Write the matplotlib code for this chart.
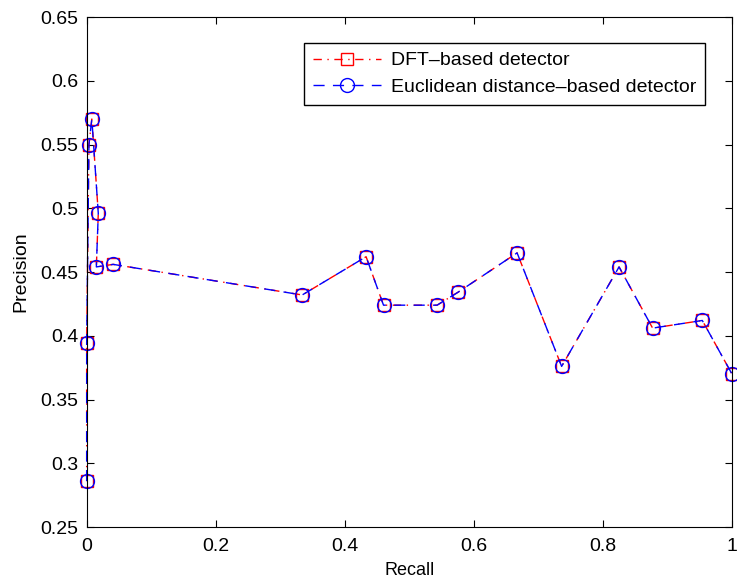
import matplotlib.pyplot as plt

plt.rcParams['font.family'] = ['Liberation Sans', 'DejaVu Sans']

# recall / precision pairs
recall = [0.0, 0.0, 0.0035, 0.008, 0.018, 0.015, 0.041, 0.334, 0.433, 0.460,
          0.543, 0.575, 0.667, 0.736, 0.825, 0.877, 0.954, 1.0]
prec_dft = [0.286, 0.394, 0.550, 0.570, 0.496, 0.454, 0.456, 0.432, 0.462, 0.424,
            0.424, 0.434, 0.465, 0.376, 0.454, 0.406, 0.412, 0.370]
prec_euc = prec_dft[:]

labels = ['DFT\u2013based detector', 'Euclidean distance\u2013based detector']

fig = plt.figure(figsize=(7.37, 5.81), dpi=100)
ax = fig.add_axes([0.1176, 0.0929, 0.8756, 0.8778])

ax.plot(recall, prec_dft, color='red', linestyle=(0, (6, 4, 1, 4)), lw=1,
        marker='s', markersize=9, markerfacecolor='none', markeredgecolor='red',
        markeredgewidth=1, label=labels[0], clip_on=False)
ax.plot(recall, prec_euc, color='blue', linestyle=(0, (8, 6)), lw=1,
        marker='o', markersize=10, markerfacecolor='none', markeredgecolor='blue',
        markeredgewidth=1, label=labels[1], clip_on=False)

ax.set_xlim(0, 1)
ax.set_ylim(0.25, 0.65)
ax.set_xticks([0, 0.2, 0.4, 0.6, 0.8, 1])
ax.set_xticklabels(['0', '0.2', '0.4', '0.6', '0.8', '1'])
ax.set_yticks([0.25, 0.3, 0.35, 0.4, 0.45, 0.5, 0.55, 0.6, 0.65])
ax.set_yticklabels(['0.25', '0.3', '0.35', '0.4', '0.45', '0.5', '0.55', '0.6', '0.65'])
ax.tick_params(direction='in', top=True, right=True, labelsize=14, length=5)
ax.tick_params(axis='x', pad=8)
ax.tick_params(axis='y', pad=6)
ax.set_xlabel('Recall', fontsize=13, labelpad=5)
ax.set_ylabel('Precision', fontsize=14, labelpad=8)

leg = ax.legend(loc='upper right', bbox_to_anchor=(0.958, 0.949), borderaxespad=0,
                fontsize=14, handlelength=3.5, handletextpad=0.5, fancybox=False,
                framealpha=1, edgecolor='black', borderpad=0.45, labelspacing=0.45)
leg.get_frame().set_linewidth(1)

fig.savefig('out.png', dpi=100)
